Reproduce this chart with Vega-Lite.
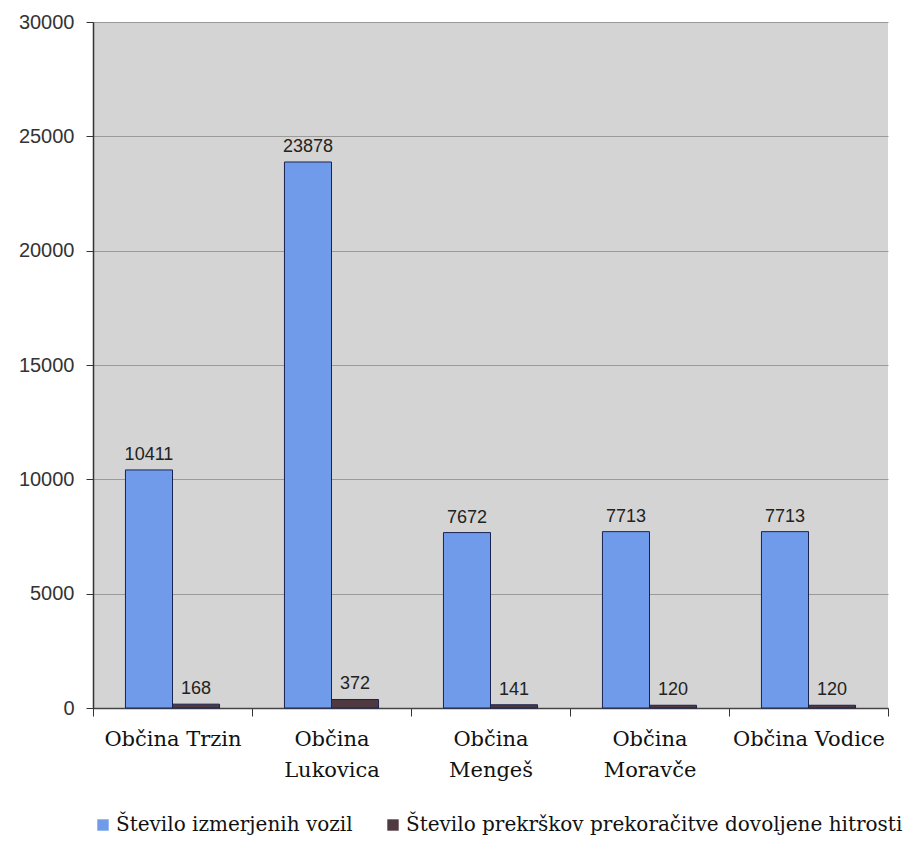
{
  "$schema": "https://vega.github.io/schema/vega-lite/v6.json",
  "width": 795,
  "height": 686,
  "padding": {"left": 18, "top": 12, "right": 10, "bottom": 5},
  "background": "white",
  "config": {
    "view": {"fill": "#d4d4d4", "stroke": null},
    "axis": {"labelColor": "#333333"}
  },
  "data": {
    "values": [
      {"obcina": "Občina Trzin", "serija": "Število izmerjenih vozil", "vrednost": 10411},
      {"obcina": "Občina Trzin", "serija": "Število prekrškov prekoračitve dovoljene hitrosti", "vrednost": 168},
      {"obcina": "Občina Lukovica", "serija": "Število izmerjenih vozil", "vrednost": 23878},
      {"obcina": "Občina Lukovica", "serija": "Število prekrškov prekoračitve dovoljene hitrosti", "vrednost": 372},
      {"obcina": "Občina Mengeš", "serija": "Število izmerjenih vozil", "vrednost": 7672},
      {"obcina": "Občina Mengeš", "serija": "Število prekrškov prekoračitve dovoljene hitrosti", "vrednost": 141},
      {"obcina": "Občina Moravče", "serija": "Število izmerjenih vozil", "vrednost": 7713},
      {"obcina": "Občina Moravče", "serija": "Število prekrškov prekoračitve dovoljene hitrosti", "vrednost": 120},
      {"obcina": "Občina Vodice", "serija": "Število izmerjenih vozil", "vrednost": 7713},
      {"obcina": "Občina Vodice", "serija": "Število prekrškov prekoračitve dovoljene hitrosti", "vrednost": 120}
    ]
  },
  "encoding": {
    "x": {
      "field": "obcina",
      "type": "nominal",
      "sort": null,
      "title": null,
      "scale": {"paddingInner": 0, "paddingOuter": 0},
      "axis": {
        "labelAngle": 0,
        "labelExpr": "!isValid(datum.value) ? '' : (datum.value == 'Občina Trzin' || datum.value == 'Občina Vodice' ? datum.value : split(datum.value, ' '))",
        "labelFont": "DejaVu Serif",
        "labelFontSize": 21,
        "labelColor": "#111111",
        "labelLineHeight": 31,
        "labelPadding": 12,
        "labelBaseline": "top",
        "tickBand": "extent",
        "tickSize": 8,
        "tickColor": "#333333",
        "domainColor": "#444444",
        "domainWidth": 1.5,
        "grid": false
      }
    },
    "xOffset": {
      "field": "serija",
      "type": "nominal",
      "sort": null,
      "scale": {"paddingInner": 0, "paddingOuter": 0.69}
    },
    "y": {
      "field": "vrednost",
      "type": "quantitative",
      "title": null,
      "scale": {"domain": [0, 30000], "nice": false},
      "axis": {
        "values": [0, 5000, 10000, 15000, 20000, 25000, 30000],
        "format": "d",
        "labelFont": "Liberation Sans",
        "labelFontSize": 20,
        "labelPadding": 12,
        "tickSize": 7,
        "tickColor": "#333333",
        "domainColor": "#333333",
        "domainWidth": 1.5,
        "gridColor": "#9a9a9a",
        "gridWidth": 1.2
      }
    }
  },
  "layer": [
    {
      "mark": {"type": "bar", "stroke": "#1a2250", "strokeWidth": 1},
      "encoding": {
        "color": {
          "field": "serija",
          "type": "nominal",
          "sort": null,
          "scale": {
            "domain": ["Število izmerjenih vozil", "Število prekrškov prekoračitve dovoljene hitrosti"],
            "range": ["#6f9bea", "#4e3a40"]
          },
          "legend": {
            "title": null,
            "orient": "none",
            "legendX": 0,
            "legendY": 793,
            "direction": "horizontal",
            "symbolType": "square",
            "symbolSize": 130,
            "symbolStrokeWidth": 0,
            "symbolOffset": 0,
            "labelFont": "DejaVu Serif",
            "labelFontSize": 20,
            "labelColor": "#111111",
            "labelLimit": 800,
            "labelOffset": 3,
            "columnPadding": 30
          }
        }
      }
    },
    {
      "mark": {"type": "text", "baseline": "bottom", "dy": -6, "font": "Liberation Sans", "fontSize": 18, "color": "#222222"},
      "encoding": {"text": {"field": "vrednost", "type": "quantitative", "format": "d"}}
    }
  ]
}
